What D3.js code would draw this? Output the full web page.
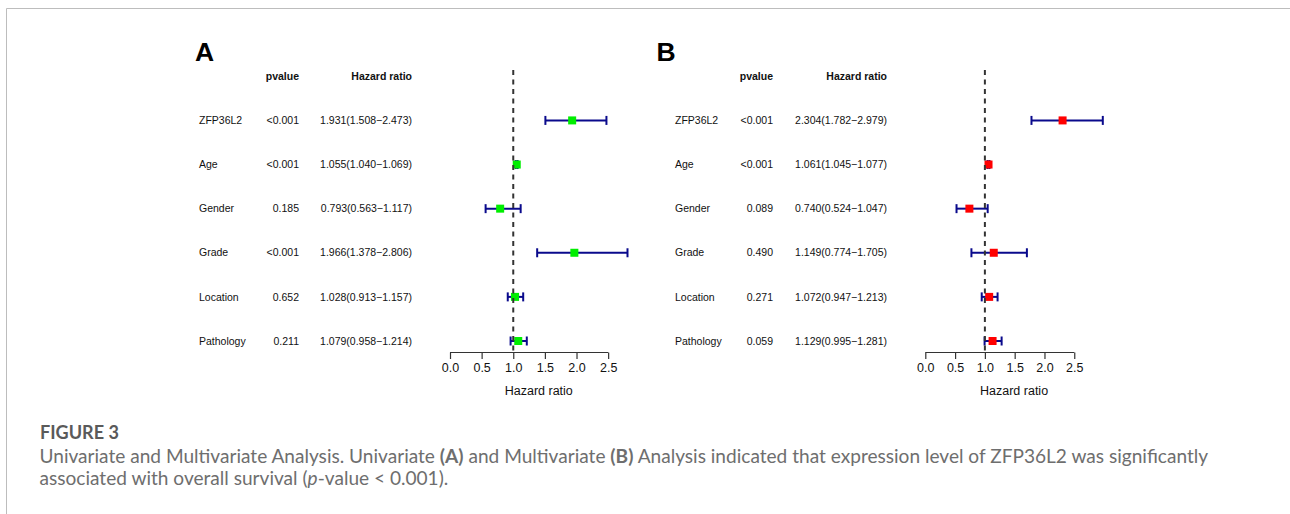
<!DOCTYPE html>
<html>
<head>
<meta charset="utf-8">
<script src="https://cdn.jsdelivr.net/npm/d3@7"></script>
<style>
  html, body { margin: 0; padding: 0; background: #fff; }
  svg { display: block; }
</style>
</head>
<body>
<svg id="fig" width="1290" height="514"></svg>
<script>
// ---- data ----
const variables = ["ZFP36L2", "Age", "Gender", "Grade", "Location", "Pathology"];

const uniPvalue = ["<0.001", "<0.001", "0.185", "<0.001", "0.652", "0.211"];
const uniHR     = [1.931, 1.055, 0.793, 1.966, 1.028, 1.079];
const uniLow    = [1.508, 1.040, 0.563, 1.378, 0.913, 0.958];
const uniHigh   = [2.473, 1.069, 1.117, 2.806, 1.157, 1.214];

const multiPvalue = ["<0.001", "<0.001", "0.089", "0.490", "0.271", "0.059"];
const multiHR     = [2.304, 1.061, 0.740, 1.149, 1.072, 1.129];
const multiLow    = [1.782, 1.045, 0.524, 0.774, 0.947, 0.995];
const multiHigh   = [2.979, 1.077, 1.047, 1.705, 1.213, 1.281];

const xTicks = [0, 0.5, 1, 1.5, 2, 2.5];
const headers = ["pvalue", "Hazard ratio"];

const svg = d3.select("#fig");
const fmt = d3.format(".3f");
const font = "'Liberation Sans', Arial, sans-serif";

// frame of the figure box
svg.append("path")
    .attr("d", "M6.5,514 V8.5 H1290")
    .attr("fill", "none")
    .attr("stroke", "#bdbdbd")
    .attr("stroke-width", 1);

// row positions: 0 = header, 1..6 = variables
const y = d3.scaleLinear().domain([0, variables.length]).range([76.3, 341]);

function drawForest(letter, pv, hr, low, high, boxColor, pos){
    const g = svg.append("g").style("font-family", font);
    const rows = variables.map((v, i) => ({name: v, p: pv[i], hr: hr[i], low: low[i], high: high[i]}));

    // plot region goes from 0 to the largest upper limit (like R's forest plot)
    const x = d3.scaleLinear()
        .domain([0, d3.max(high)])
        .range([pos.plotX, pos.plotX + 177.5]);

    g.append("text")
        .attr("x", pos.letterX).attr("y", pos.letterY)
        .attr("font-size", 26.5).attr("font-weight", "bold")
        .attr("fill", "#000")
        .text(letter);

    // header
    g.append("text")
        .attr("x", pos.pX).attr("y", y(0)).attr("dy", "0.35em")
        .attr("text-anchor", "end").attr("font-size", 10.5).attr("font-weight", "bold")
        .attr("fill", "#111")
        .text(headers[0]);
    g.append("text")
        .attr("x", pos.hrX).attr("y", y(0)).attr("dy", "0.35em")
        .attr("text-anchor", "end").attr("font-size", 10.5).attr("font-weight", "bold")
        .attr("fill", "#111")
        .text(headers[1]);

    const row = g.selectAll("g.row").data(rows).join("g")
        .attr("class", "row")
        .attr("transform", (d, i) => `translate(0,${y(i + 1)})`);

    row.append("text")
        .attr("x", pos.labelX).attr("dy", "0.35em")
        .attr("font-size", 10.5).attr("fill", "#111")
        .text(d => d.name);
    row.append("text")
        .attr("x", pos.pX).attr("dy", "0.35em")
        .attr("text-anchor", "end").attr("font-size", 10.5).attr("fill", "#111")
        .text(d => d.p);
    row.append("text")
        .attr("x", pos.hrX).attr("dy", "0.35em")
        .attr("text-anchor", "end").attr("font-size", 10.5).attr("fill", "#111")
        .text(d => `${fmt(d.hr)}(${fmt(d.low)}\u2212${fmt(d.high)})`);

    const axisY = 352.5;

    // reference line at HR = 1
    g.append("line")
        .attr("x1", x(1)).attr("x2", x(1))
        .attr("y1", 70).attr("y2", axisY)
        .attr("stroke", "#333").attr("stroke-width", 2)
        .attr("stroke-dasharray", "5,4.5");

    // confidence intervals
    row.append("line")
        .attr("x1", d => x(d.low)).attr("x2", d => x(d.high))
        .attr("stroke", "#0a0a8c").attr("stroke-width", 2);
    row.append("line")
        .attr("x1", d => x(d.low)).attr("x2", d => x(d.low))
        .attr("y1", -4.5).attr("y2", 4.5)
        .attr("stroke", "#0a0a8c").attr("stroke-width", 2);
    row.append("line")
        .attr("x1", d => x(d.high)).attr("x2", d => x(d.high))
        .attr("y1", -4.5).attr("y2", 4.5)
        .attr("stroke", "#0a0a8c").attr("stroke-width", 2);

    row.append("rect")
        .attr("x", d => x(d.hr) - 4).attr("y", -4)
        .attr("width", 8).attr("height", 8)
        .attr("fill", boxColor);

    // x axis
    const ax = g.append("g")
        .attr("transform", `translate(0,${axisY})`)
        .call(d3.axisBottom(x).tickValues(xTicks).tickFormat(d3.format(".1f"))
            .tickSize(6.5).tickSizeOuter(0).tickPadding(3));
    ax.select(".domain").remove();
    ax.append("line")
        .attr("x1", x(xTicks[0])).attr("x2", x(xTicks[xTicks.length - 1]))
        .attr("stroke", "#333").attr("stroke-width", 1.2);
    ax.selectAll(".tick line").attr("stroke", "#333").attr("stroke-width", 1.2);
    ax.selectAll(".tick text")
        .attr("font-family", font).attr("font-size", 12.5).attr("fill", "#111")
        .attr("y", 15).attr("dy", "0.35em");

    g.append("text")
        .attr("x", x(d3.max(high) / 2)).attr("y", 390.5).attr("dy", "0.35em")
        .attr("text-anchor", "middle").attr("font-size", 12.5).attr("fill", "#111")
        .text("Hazard ratio");
}

drawForest("A", uniPvalue, uniHR, uniLow, uniHigh, "#00ee00",
    {letterX: 195, letterY: 61, labelX: 199, pX: 299, hrX: 412, plotX: 450});
drawForest("B", multiPvalue, multiHR, multiLow, multiHigh, "#ff0000",
    {letterX: 656.5, letterY: 60.5, labelX: 675, pX: 773, hrX: 887, plotX: 925.3});

// ---- caption ----
const capFont = "Lato, 'Open Sans', sans-serif";
const cap = svg.append("g").style("font-family", capFont).attr("fill", "#6e6e6e");

const figLabel = cap.append("text")
    .attr("x", 40).attr("y", 438.5)
    .attr("font-size", 16).attr("font-weight", "bold").attr("fill", "#5a5a5a")
    .text("FIGURE 3");
figLabel.attr("font-size", 16 * 79 / figLabel.node().getComputedTextLength());

const line1 = cap.append("text").attr("x", 39.5).attr("y", 462.5).attr("font-size", 16);
[["Univariate and Multivariate Analysis. Univariate ", false],
 ["(A)", true],
 [" and Multivariate ", false],
 ["(B)", true],
 [" Analysis indicated that expression level of ZFP36L2 was significantly", false]]
    .forEach(([t, b]) => line1.append("tspan").attr("font-weight", b ? "bold" : null).text(t));

const line2 = cap.append("text").attr("x", 39.5).attr("y", 484.5).attr("font-size", 16);
line2.append("tspan").text("associated with overall survival (");
line2.append("tspan").attr("font-style", "italic").text("p");
line2.append("tspan").text("-value < 0.001).");

// fit caption font size to the width seen in the figure
const w1 = line1.node().getComputedTextLength();
const fs = 16 * 1169 / w1;
line1.attr("font-size", fs);
line2.attr("font-size", fs);
</script>
</body>
</html>
